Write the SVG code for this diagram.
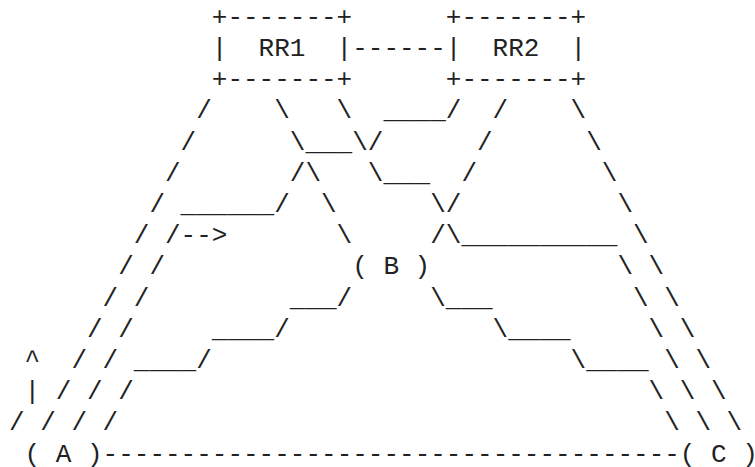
<svg xmlns="http://www.w3.org/2000/svg" width="755" height="467" viewBox="0 0 755 467">
<style>
text{font-family:"Liberation Mono","DejaVu Sans Mono",monospace;font-size:26px;fill:#222}
</style>
<rect width="755" height="467" fill="#fff"/>
<g id="RR1">
<text><tspan x="211.8" y="24.8">+-------+</tspan></text>
<text y="56"><tspan x="211.8">|</tspan><tspan x="258.6">RR1</tspan><tspan x="336.6">|</tspan></text>
<text><tspan x="211.8" y="87.2">+-------+</tspan></text>
</g>
<g id="RR2">
<text><tspan x="445.8" y="24.8">+-------+</tspan></text>
<text y="56"><tspan x="445.8">|</tspan><tspan x="492.6">RR2</tspan><tspan x="570.6">|</tspan></text>
<text><tspan x="445.8" y="87.2">+-------+</tspan></text>
</g>
<g id="B">
<text y="274.4"><tspan x="352.2">(</tspan><tspan x="383.4">B</tspan><tspan x="414.6">)</tspan></text>
</g>
<g id="A">
<text y="461.6"><tspan x="24.6">(</tspan><tspan x="55.8">A</tspan><tspan x="87">)</tspan></text>
</g>
<g id="C">
<text y="461.6"><tspan x="679.8">(</tspan><tspan x="711">C</tspan><tspan x="742.2">)</tspan></text>
</g>
<g id="connectors">
<text y="56"><tspan x="352.2">------</tspan></text>
<text y="118.4"><tspan x="196.2">/</tspan><tspan x="274.2">\</tspan><tspan x="336.6">\</tspan><tspan x="383.4">____/</tspan><tspan x="492.6">/</tspan><tspan x="570.6">\</tspan></text>
<text y="149.6"><tspan x="180.6">/</tspan><tspan x="289.8">\___\/</tspan><tspan x="477">/</tspan><tspan x="586.2">\</tspan></text>
<text y="180.8"><tspan x="165">/</tspan><tspan x="289.8">/\</tspan><tspan x="367.8">\___</tspan><tspan x="461.4">/</tspan><tspan x="601.8">\</tspan></text>
<text y="212"><tspan x="149.4">/</tspan><tspan x="180.6">______/</tspan><tspan x="321">\</tspan><tspan x="430.2">\/</tspan><tspan x="617.4">\</tspan></text>
<text y="243.2"><tspan x="133.8">/</tspan><tspan x="165">/--&gt;</tspan><tspan x="336.6">\</tspan><tspan x="430.2">/\__________</tspan><tspan x="633">\</tspan></text>
<text y="274.4"><tspan x="118.2">/</tspan><tspan x="149.4">/</tspan><tspan x="617.4">\</tspan><tspan x="648.6">\</tspan></text>
<text y="305.6"><tspan x="102.6">/</tspan><tspan x="133.8">/</tspan><tspan x="289.8">___/</tspan><tspan x="430.2">\___</tspan><tspan x="633">\</tspan><tspan x="664.2">\</tspan></text>
<text y="336.8"><tspan x="87">/</tspan><tspan x="118.2">/</tspan><tspan x="211.8">____/</tspan><tspan x="492.6">\____</tspan><tspan x="648.6">\</tspan><tspan x="679.8">\</tspan></text>
<text y="368"><tspan x="24.6">^</tspan><tspan x="71.4">/</tspan><tspan x="102.6">/</tspan><tspan x="133.8">____/</tspan><tspan x="570.6">\____</tspan><tspan x="664.2">\</tspan><tspan x="695.4">\</tspan></text>
<text y="399.2"><tspan x="24.6">|</tspan><tspan x="55.8">/</tspan><tspan x="87">/</tspan><tspan x="118.2">/</tspan><tspan x="648.6">\</tspan><tspan x="679.8">\</tspan><tspan x="711">\</tspan></text>
<text y="430.4"><tspan x="9">/</tspan><tspan x="40.2">/</tspan><tspan x="71.4">/</tspan><tspan x="102.6">/</tspan><tspan x="664.2">\</tspan><tspan x="695.4">\</tspan><tspan x="726.6">\</tspan></text>
<text y="461.6"><tspan x="102.6">-------------------------------------</tspan></text>
</g>
</svg>
